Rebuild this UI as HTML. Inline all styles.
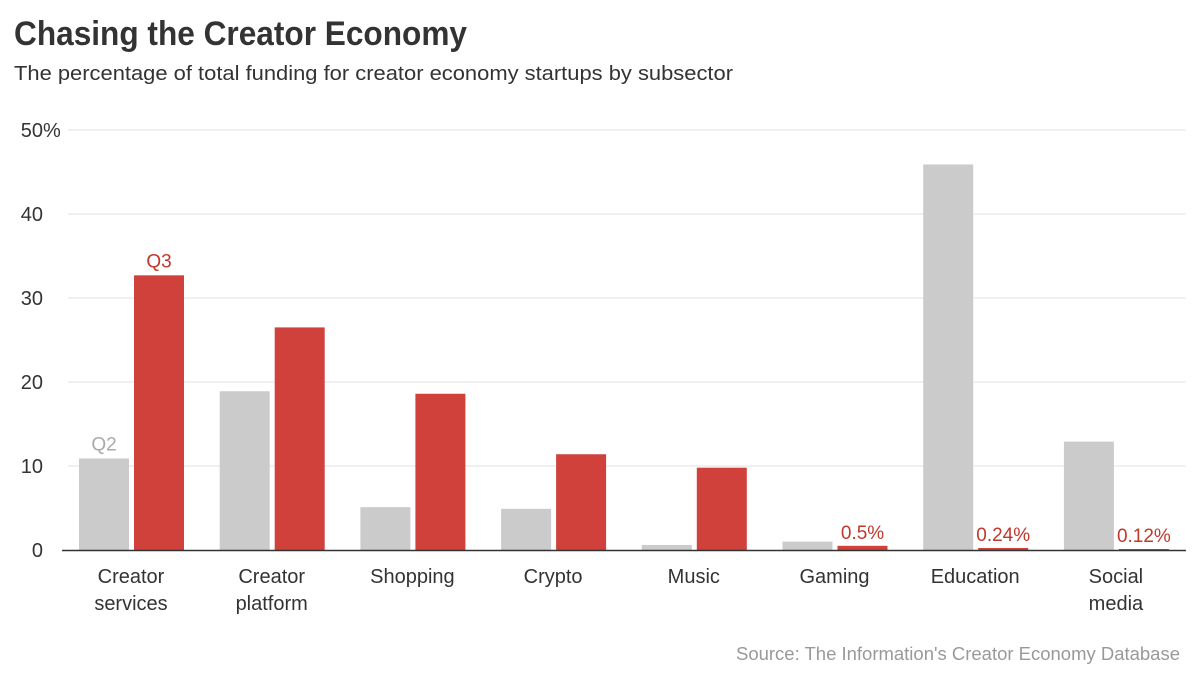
<!DOCTYPE html>
<html><head><meta charset="utf-8"><style>
body{margin:0;background:#fff}
svg{display:block;font-family:"Liberation Sans",sans-serif}
</style></head><body>
<svg id="c" width="1200" height="675">
<text x="14" y="45" font-size="34" font-weight="bold" fill="#333" textLength="453" lengthAdjust="spacingAndGlyphs">Chasing the Creator Economy</text>
<text x="14" y="80" font-size="20" fill="#333" textLength="719" lengthAdjust="spacingAndGlyphs">The percentage of total funding for creator economy startups by subsector</text>
<text x="1180" y="660" font-size="18" fill="#999" text-anchor="end" textLength="444" lengthAdjust="spacingAndGlyphs">Source: The Information's Creator Economy Database</text>
<g id="grid"></g><g id="bars"></g><g id="labels"></g>
</svg>
<script>
const categories=[["Creator","services"],["Creator","platform"],["Shopping"],["Crypto"],["Music"],["Gaming"],["Education"],["Social","media"]];
const q2Values=[10.9,18.9,5.1,4.9,0.6,1.0,45.9,12.9];
const q3Values=[32.7,26.5,18.6,11.4,9.8,0.5,0.24,0.12];
const yTicks=[0,10,20,30,40,50];
const q3Labels={5:"0.5%",6:"0.24%",7:"0.12%"};
const NS="http://www.w3.org/2000/svg";
const y=v=>550-v*8.4;
const cx=i=>131+140.7*i;
function mk(t,a,p){const e=document.createElementNS(NS,t);for(const k in a)e.setAttribute(k,a[k]);p.appendChild(e);return e;}
const grid=document.getElementById('grid'),bars=document.getElementById('bars'),lab=document.getElementById('labels');
yTicks.forEach(t=>{
 if(t>0){const l=mk('line',{x1:68,x2:1186,y1:y(t),y2:y(t),stroke:'#e2e2e2','stroke-width':1},grid);
 
 }
 const tx=mk('text',{x:43,y:y(t)+7,'font-size':20,fill:'#333','text-anchor':'end'},grid);
 tx.textContent=t;
 
 
 if(t===50){const p=mk('text',{x:43,y:y(t)+7,'font-size':20,fill:'#333'},grid);p.textContent='%';}
});
categories.forEach((c,i)=>{
 const b1=mk('rect',{x:cx(i)-52,y:y(q2Values[i]),width:50,height:550-y(q2Values[i]),fill:'#cbcbcb'},bars);
 
 
 const b2=mk('rect',{x:cx(i)+3,y:y(q3Values[i]),width:50,height:550-y(q3Values[i]),fill:'#d0413b'},bars);
 
 
 c.forEach((w,j)=>{const t=mk('text',{x:cx(i),y:583+j*27,'font-size':20,fill:'#333','text-anchor':'middle'},lab);t.textContent=w;
 
 });
 if(q3Labels[i]){const t=mk('text',{x:cx(i)+28,y:y(q3Values[i])-7,'font-size':19,fill:'#c0392b','text-anchor':'middle'},lab);t.textContent=q3Labels[i];
 
 }
});
const a=mk('text',{x:cx(0)-27,y:y(q2Values[0])-8,'font-size':19,fill:'#aaa','text-anchor':'middle'},lab);a.textContent='Q2';


const b=mk('text',{x:cx(0)+28,y:y(q3Values[0])-8,'font-size':19,fill:'#c0392b','text-anchor':'middle'},lab);b.textContent='Q3';


const ax=mk('line',{x1:62,x2:1186,y1:550.5,y2:550.5,stroke:'#333','stroke-width':1.5},bars);


</script>
</body></html>
